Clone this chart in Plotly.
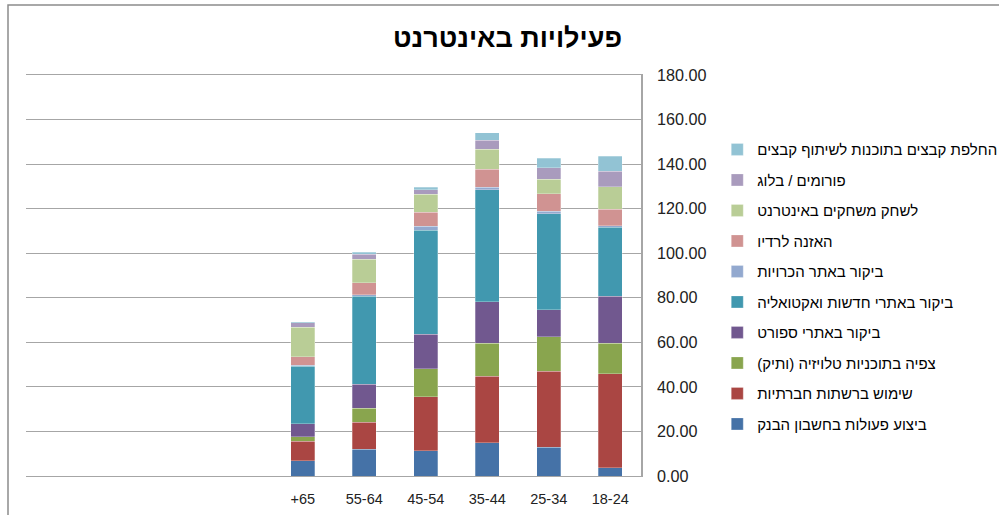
import plotly.graph_objects as go

categories = ["18-24", "25-34", "35-44", "45-54", "55-64", "+65"]

series_names = [
    "ביצוע פעולות בחשבון הבנק",
    "שימוש ברשתות חברתיות",
    "צפיה בתוכניות טלויזיה (ותיק)",
    "ביקור באתרי ספורט",
    "ביקור באתרי חדשות ואקטואליה",
    "ביקור באתר הכרויות",
    "האזנה לרדיו",
    "לשחק משחקים באינטרנט",
    "פורומים / בלוג",
    "החלפת קבצים בתוכנות לשיתוף קבצים",
]

bank = [3.6, 12.8, 14.9, 11.4, 12.0, 6.9]
social = [42.3, 34.3, 29.8, 24.2, 12.1, 8.6]
tv = [13.8, 15.3, 15.0, 12.5, 6.3, 2.2]
sport = [21.1, 12.3, 18.5, 15.5, 10.8, 5.8]
news = [30.9, 43.1, 50.4, 46.7, 39.6, 25.8]
dating = [0.6, 1.1, 1.1, 1.7, 0.6, 0.5]
radio = [7.4, 7.9, 7.9, 6.3, 5.4, 3.8]
games = [10.2, 6.3, 9.1, 8.1, 10.5, 13.1]
forums = [6.9, 5.3, 4.1, 2.2, 2.2, 2.0]
fileshare = [6.8, 4.3, 3.3, 1.1, 0.9, 0.6]

series_values = [bank, social, tv, sport, news, dating, radio, games, forums, fileshare]

colors = ["#4572A7", "#AA4643", "#89A54E", "#71588F", "#4198AF",
          "#93A9CF", "#D09392", "#B9CD96", "#A99BBD", "#92C3D4"]

ytick_vals = [0, 20, 40, 60, 80, 100, 120, 140, 160, 180]
ytick_text = ["%.2f" % v for v in ytick_vals]

fig = go.Figure()
n = len(series_names)
for i, (name, vals, col) in enumerate(zip(series_names, series_values, colors)):
    fig.add_trace(go.Bar(
        x=categories, y=vals, name=name, legendgroup=name, legendrank=n - i,
        marker=dict(color=col, line=dict(color="rgba(255,255,255,0.45)", width=0.6)),
    ))

fig.update_layout(
    width=999, height=515,
    barmode="stack", bargap=0.61,
    plot_bgcolor="white", paper_bgcolor="white",
    margin=dict(l=26, r=358, t=75, b=39, autoexpand=False),
    title=dict(text="<b>פעילויות באינטרנט</b>", x=0.508, xanchor="center", y=0.927, yanchor="middle",
               font=dict(family="Liberation Sans, Arial, sans-serif", size=27, color="black")),
    font=dict(family="Liberation Sans, Arial, sans-serif", size=13, color="#222"),
    legend=dict(x=1.124, xanchor="left", y=0.855, yanchor="top",
                traceorder="grouped", tracegroupgap=8,
                font=dict(size=15, color="black"), bgcolor="rgba(0,0,0,0)"),
    xaxis=dict(type="category", range=[9.5, -0.5], showgrid=False, zeroline=False,
               showline=True, mirror=True, linecolor="#A6A6A6", linewidth=1.3,
               ticks="", ticklabelstandoff=9, automargin=False,
               tickfont=dict(size=14.5, color="#222")),
    yaxis=dict(side="right", range=[0, 180], tickvals=ytick_vals, ticktext=ytick_text,
               showgrid=True, gridcolor="#A6A6A6", gridwidth=1.3, zeroline=False,
               showline=True, linecolor="#A6A6A6", linewidth=1.5, ticks="",
               ticklabelstandoff=11, automargin=False, tickfont=dict(size=16.2, color="#222")),
    shapes=[dict(type="rect", xref="paper", yref="paper",
                 x0=-18 / 615, x1=1.6, y0=-0.2, y1=1 + 70 / 401,
                 line=dict(color="#8C8C8C", width=1.5), fillcolor="rgba(0,0,0,0)", layer="below")],
)

fig.write_html("out.html", config={"displayModeBar": False},
               post_script="document.body.style.margin='0px';")
